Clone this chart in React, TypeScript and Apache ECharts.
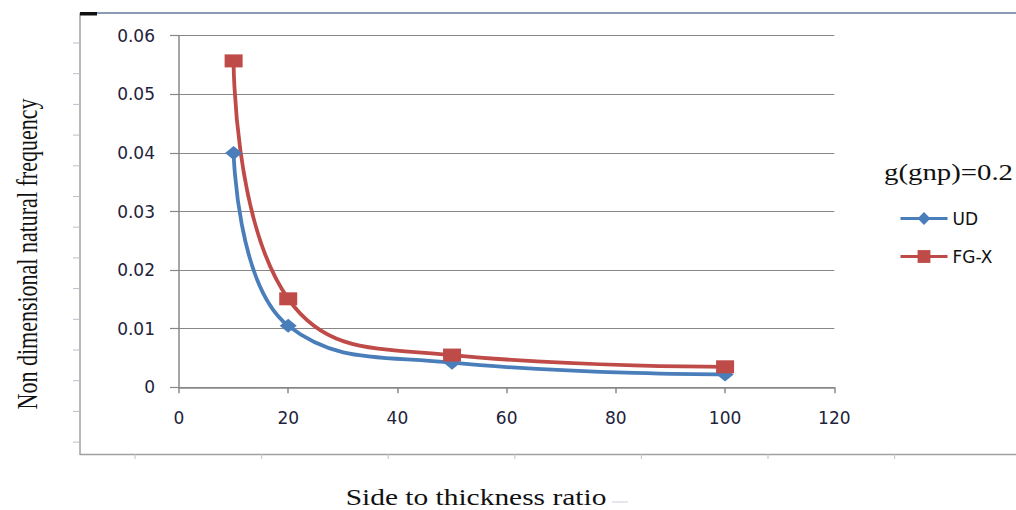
import React, { useEffect, useRef } from "react";
import * as echarts from "echarts";

const ratios = [10, 20, 50, 100];
const udValues = [0.04, 0.0105, 0.0042, 0.0022];
const fgxValues = [0.0557, 0.0151, 0.0055, 0.0035];
const seriesNames = ["UD", "FG-X"];
const legendTitle = "g(gnp)=0.2";
const xTitle = "Side to thickness ratio";
const yTitle = "Non dimensional natural frequency";

export default function App() {
  const ref = useRef<HTMLDivElement>(null);
  useEffect(() => {
    if (!ref.current) return;
    const chart = echarts.init(ref.current, undefined, { renderer: "svg" });
    const leftTicks: any[] = [];
    for (let i = 0; i < 14; i++) {
      const y = 43 + i * 30.7;
      if (y > 450) break;
      leftTicks.push({ type: "line", shape: { x1: 73, y1: y, x2: 80, y2: y }, style: { stroke: "#b8c0cc", lineWidth: 1 } });
    }
    const bottomTicks: any[] = [];
    for (let i = 0; i < 7; i++) {
      const x = 135 + i * 126.6;
      bottomTicks.push({ type: "line", shape: { x1: x, y1: 454, x2: x, y2: 459 }, style: { stroke: "#b8c0cc", lineWidth: 1 } });
    }
    chart.setOption({
      animation: false,
      backgroundColor: "#ffffff",
      grid: { left: 179, top: 35.7, right: 181.7, bottom: 122.7, containLabel: false },
      xAxis: {
        type: "value",
        min: 0,
        max: 120,
        interval: 20,
        axisLine: { show: true, lineStyle: { color: "#888888", width: 1.5 } },
        axisTick: { show: true, length: 6, lineStyle: { color: "#888888", width: 1.5 } },
        splitLine: { show: false },
        axisLabel: { margin: 22, fontFamily: "DejaVu Sans", fontSize: 17, color: "#22223a" },
      },
      yAxis: {
        type: "value",
        min: 0,
        max: 0.06,
        interval: 0.01,
        axisLine: { show: true, lineStyle: { color: "#888888", width: 1.5 } },
        axisTick: { show: true, length: 9, lineStyle: { color: "#888888", width: 1.2 } },
        splitLine: { show: true, lineStyle: { color: "#878787", width: 1.2 } },
        axisLabel: {
          margin: 24,
          fontFamily: "DejaVu Sans",
          fontSize: 17,
          color: "#22223a",
          formatter: (v: number) => (v === 0 ? "0" : v.toFixed(2)),
        },
      },
      legend: {
        orient: "vertical",
        left: 894,
        top: 205,
        itemWidth: 47,
        itemHeight: 16,
        itemGap: 21,
        lineStyle: { width: 3 },
        textStyle: { fontFamily: "DejaVu Sans", fontSize: 17, color: "#111111" },
        data: seriesNames,
      },
      series: [
        {
          name: seriesNames[0],
          type: "line",
          data: ratios.map((r, i) => [r, udValues[i]]),
          smooth: 0.45,
          symbol: "diamond",
          symbolSize: [17, 14],
          lineStyle: { color: "#4a7ebb", width: 3.8 },
          itemStyle: { color: "#4a7ebb" },
        },
        {
          name: seriesNames[1],
          type: "line",
          data: ratios.map((r, i) => [r, fgxValues[i]]),
          smooth: 0.45,
          symbol: "rect",
          symbolSize: [18, 13],
          lineStyle: { color: "#be4b48", width: 3.8 },
          itemStyle: { color: "#be4b48" },
        },
      ],
      graphic: [
        { type: "line", shape: { x1: 80, y1: 13, x2: 1016, y2: 13 }, style: { stroke: "#8a9cb3", lineWidth: 2 } },
        { type: "line", shape: { x1: 80, y1: 13, x2: 80, y2: 455 }, style: { stroke: "#a0a0a0", lineWidth: 1.5 } },
        { type: "line", shape: { x1: 80, y1: 454.5, x2: 1016, y2: 454.5 }, style: { stroke: "#a0a0a0", lineWidth: 1.5 } },
        { type: "rect", shape: { x: 80, y: 12, width: 17, height: 3.5 }, style: { fill: "#111111" } },
        ...leftTicks,
        ...bottomTicks,
        {
          type: "text",
          x: 884,
          y: 172,
          scaleX: 1.2,
          style: { text: legendTitle, fontFamily: "Liberation Serif", fontSize: 24, fill: "#111111", align: "left", verticalAlign: "middle" },
        },
        {
          type: "text",
          x: 476,
          y: 497,
          scaleX: 1.28,
          style: { text: xTitle, fontFamily: "Liberation Serif", fontSize: 23, fill: "#111111", align: "center", verticalAlign: "middle" },
        },
        { type: "line", shape: { x1: 612, y1: 502, x2: 628, y2: 502 }, style: { stroke: "#c8d0dc", lineWidth: 1 } },
        {
          type: "text",
          x: 27,
          y: 254,
          rotation: Math.PI / 2,
          scaleY: 1.3,
          style: { text: yTitle, fontFamily: "Liberation Serif", fontSize: 22, fill: "#111111", align: "center", verticalAlign: "middle" },
        },
      ],
    });
    return () => chart.dispose();
  }, []);
  return <div ref={ref} style={{ position: "fixed", left: 0, top: 0, width: 1016, height: 510 }} />;
}
